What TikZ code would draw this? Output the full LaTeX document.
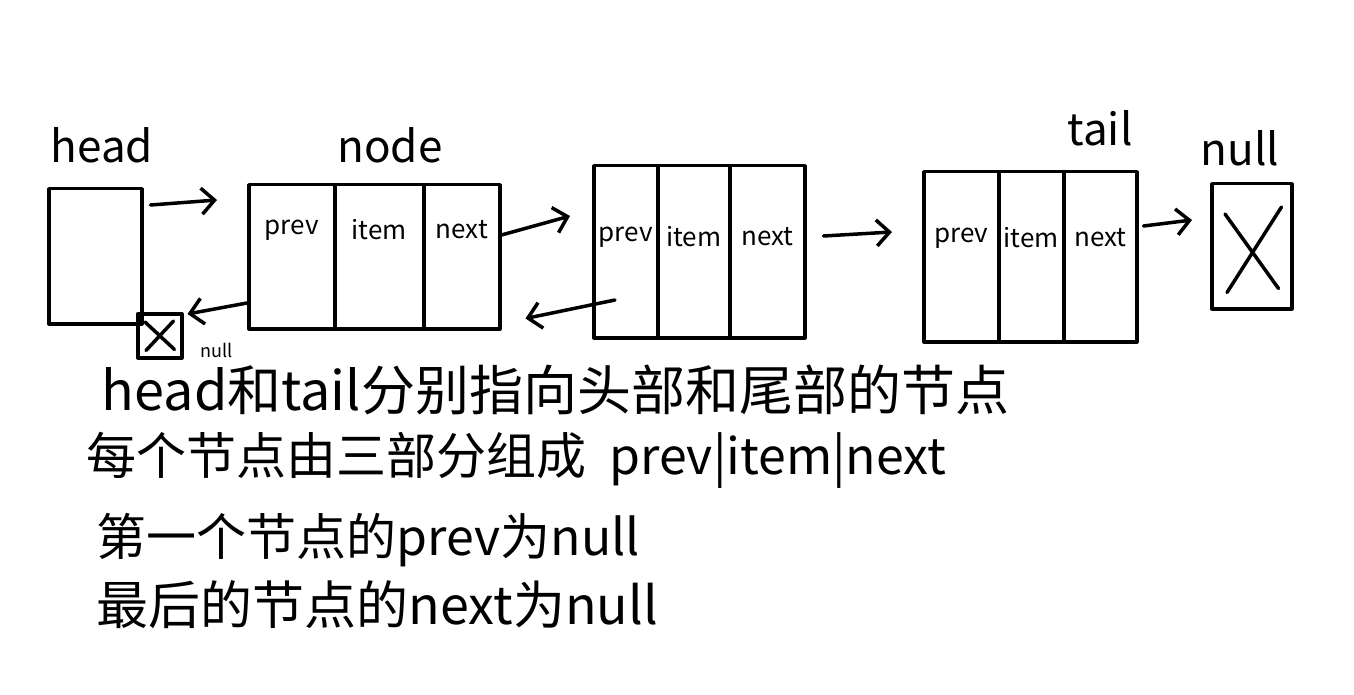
\documentclass[tikz,border=0pt]{standalone}
\usepackage{fontspec}
\setmainfont{Noto Sans CJK SC}
\usetikzlibrary{arrows.meta}
\begin{document}
\begin{tikzpicture}[x=1pt,y=-1pt,
  line width=3.5pt, line cap=round, line join=round,
  cell/.style={draw, inner sep=0pt, anchor=north west},
  celltext/.style={inner sep=0pt, font=\fontsize{26}{28}\selectfont},
  lbl/.style={inner sep=0pt, font=\fontsize{44}{48}\selectfont},
  note/.style={inner sep=0pt, anchor=west, font=\fontsize{50}{54}\selectfont},
  arr/.style={-{Straight Barb[length=13pt,width=26pt,line width=3.5pt]}}]
\fill[white] (0,0) rectangle (1354,695);
\useasboundingbox (0,0) rectangle (1354,695);

% head pointer box
\node[cell, minimum width=93pt, minimum height=135pt] (head) at (47,187) {};
\node[lbl] (headl) at (102,145) {head};

% node 1
\node[cell, minimum width=86pt, minimum height=144pt] (n1p) at (247,183) {};
\node[cell, minimum width=89pt, minimum height=144pt] (n1i) at (333,183) {};
\node[cell, minimum width=76pt, minimum height=144pt] (n1n) at (422,183) {};
\node[celltext] (t1p) at ([yshift=-47pt]n1p.north) {prev};
\node[celltext] (t1i) at ([yshift=-47pt]n1i.north) {item};
\node[celltext] (t1n) at ([yshift=-47pt]n1n.north) {next};
\node[lbl] (nodel) at (390,145) {node};

% node 2
\node[cell, minimum width=64pt, minimum height=172pt] (n2p) at (592,164) {};
\node[cell, minimum width=72pt, minimum height=172pt] (n2i) at (656,164) {};
\node[cell, minimum width=75pt, minimum height=172pt] (n2n) at (728,164) {};
\node[celltext] (t2p) at ([yshift=-73pt]n2p.north) {prev};
\node[celltext] (t2i) at ([yshift=-73pt]n2i.north) {item};
\node[celltext] (t2n) at ([yshift=-73pt]n2n.north) {next};

% node 3 (tail)
\node[cell, minimum width=75pt, minimum height=170pt] (n3p) at (922,170) {};
\node[cell, minimum width=65pt, minimum height=170pt] (n3i) at (997,170) {};
\node[cell, minimum width=73pt, minimum height=170pt] (n3n) at (1062,170) {};
\node[celltext] (t3p) at ([yshift=-68pt]n3p.north) {prev};
\node[celltext] (t3i) at ([yshift=-68pt]n3i.north) {item};
\node[celltext] (t3n) at ([yshift=-68pt]n3n.north) {next};
\node[lbl] (taill) at (1100,128) {tail};

% null box at the end
\node[cell, minimum width=80pt, minimum height=125pt] (nullR) at (1210,182) {};
\draw ([xshift=15pt,yshift=-32pt]nullR.north west) -- ([xshift=-15pt,yshift=22pt]nullR.south east);
\draw ([xshift=-12pt,yshift=-25pt]nullR.north east) -- ([xshift=17pt,yshift=18pt]nullR.south west);
\node[lbl] (nulll) at (1240,148) {null};

% small null box under head
\node[cell, minimum width=44pt, minimum height=44pt] (nullL) at (136,312) {};
\draw ([xshift=9pt,yshift=-10pt]nullL.north west) -- ([xshift=-9pt,yshift=10pt]nullL.south east);
\draw ([xshift=-10pt,yshift=-9pt]nullL.north east) -- ([xshift=10pt,yshift=9pt]nullL.south west);
\node[inner sep=0pt, font=\fontsize{18}{20}\selectfont] (nullLl) at (217,350) {null};

% connectors
\draw[arr] ([xshift=7pt,yshift=-18pt]head.north east) -- ([xshift=-30pt,yshift=-17pt]n1p.north west);
\draw[arr] ([yshift=-52pt]n1n.north east) -- ([xshift=-22pt,yshift=-52pt]n2p.north west);
\draw[arr] ([xshift=23pt,yshift=-136pt]n2p.north west) -- ([xshift=24pt,yshift=12pt]n1n.south east);
\draw[arr] ([yshift=-120pt]n1p.north west) -- ([xshift=4pt,yshift=-2pt]nullL.north east);
\draw[arr] ([xshift=17pt,yshift=-72pt]n2n.north east) -- ([xshift=-30pt,yshift=-62pt]n3p.north west);
\draw[arr] ([xshift=5pt,yshift=-56pt]n3n.north east) -- ([xshift=-18pt,yshift=-38pt]nullR.north west);

% notes
\node[note, font=\fontsize{54}{58}\selectfont] (l1) at (100,390) {head和tail分别指向头部和尾部的节点};
\node[note] (l2) at (85,460) {每个节点由三部分组成\ \ prev|item|next};
\node[note] (l3) at (95,540) {第一个节点的prev为null};
\node[note, font=\fontsize{52}{56}\selectfont] (l4) at (95,605) {最后的节点的next为null};
\end{tikzpicture}
\end{document}
